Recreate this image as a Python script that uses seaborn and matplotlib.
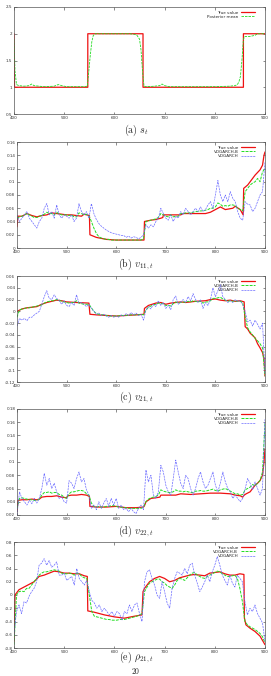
import numpy as np
import matplotlib
matplotlib.use("Agg")
import matplotlib.pyplot as plt
import seaborn as sns
from matplotlib.ticker import FuncFormatter, MultipleLocator

# ---- data ----
# common grid for the filtered series (every 5 steps)
t_grid = list(range(400, 901, 5))

# (a) regime s_t
a_true_t = [400, 401, 547, 547, 657, 657, 857, 857, 900]
a_true_y = [2, 1, 1, 2, 2, 1, 1, 2, 2]
a_post_t = [400, 402, 405, 410, 420, 430, 435, 440, 450, 460,
            480, 488, 495, 505, 520, 540, 546, 549, 552, 555,
            558, 562, 570, 600, 630, 640, 645, 650, 653, 656,
            659, 665, 680, 690, 695, 700, 710, 750, 800, 830,
            840, 845, 848, 851, 854, 857, 860, 870, 880, 885, 900]
a_post_y = [1.9, 1.3, 1.05, 1.03, 1.02, 1.03, 1.06, 1.03, 1.02, 1.01,
            1.02, 1.05, 1.03, 1.01, 1.01, 1.01, 1.02, 1.3, 1.6, 1.85,
            1.97, 2.0, 2.0, 2.0, 2.0, 1.99, 1.97, 1.9, 1.7, 1.3,
            1.02, 1.01, 1.02, 1.03, 1.06, 1.03, 1.01, 1.01, 1.01, 1.02,
            1.03, 1.05, 1.1, 1.2, 1.5, 1.9, 1.95, 1.95, 1.97, 2.0, 2.0]

# (b) v_11,t
b_true_t = [400, 402, 410, 420, 430, 440, 450, 460, 470, 480,
            490, 500, 510, 520, 530, 535, 546, 547, 560, 580,
            600, 620, 640, 656, 657, 670, 680, 690, 694, 695,
            710, 730, 735, 760, 780, 790, 800, 810, 820, 835,
            840, 850, 856, 857, 865, 870, 880, 890, 895, 898, 900]
b_true_y = [0.032, 0.048, 0.048, 0.052, 0.049, 0.047, 0.049, 0.05, 0.053, 0.052,
            0.051, 0.05, 0.05, 0.049, 0.048, 0.051, 0.049, 0.02, 0.016, 0.013,
            0.012, 0.012, 0.012, 0.012, 0.04, 0.042, 0.043, 0.045, 0.046, 0.05,
            0.05, 0.05, 0.052, 0.052, 0.052, 0.054, 0.058, 0.062, 0.058, 0.06,
            0.063, 0.058, 0.05, 0.09, 0.095, 0.1, 0.11, 0.118, 0.125, 0.14, 0.145]
b_vdb = [0.045, 0.047, 0.048, 0.05, 0.052, 0.05, 0.048, 0.046, 0.046, 0.048,
         0.049, 0.051, 0.054, 0.052, 0.052, 0.05, 0.054, 0.051, 0.05, 0.05,
         0.05, 0.049, 0.05, 0.047, 0.047, 0.053, 0.052, 0.05, 0.051, 0.049,
         0.04, 0.03, 0.022, 0.017, 0.015, 0.014, 0.013, 0.013, 0.012, 0.012,
         0.012, 0.012, 0.012, 0.012, 0.012, 0.012, 0.012, 0.012, 0.012, 0.012,
         0.012, 0.014, 0.04, 0.041, 0.042, 0.043, 0.044, 0.046, 0.052, 0.05,
         0.048, 0.047, 0.05, 0.047, 0.048, 0.048, 0.052, 0.052, 0.053, 0.053,
         0.053, 0.054, 0.055, 0.055, 0.056, 0.056, 0.057, 0.058, 0.06, 0.06,
         0.062, 0.068, 0.066, 0.063, 0.064, 0.063, 0.065, 0.065, 0.064, 0.06,
         0.058, 0.056, 0.085, 0.09, 0.095, 0.098, 0.1, 0.105, 0.1, 0.115,
         0.12]
b_vd = [0.05, 0.04, 0.045, 0.05, 0.055, 0.045, 0.04, 0.035, 0.03, 0.04,
        0.045, 0.06, 0.067, 0.05, 0.055, 0.045, 0.065, 0.05, 0.045, 0.05,
        0.048, 0.045, 0.05, 0.04, 0.045, 0.067, 0.055, 0.05, 0.055, 0.045,
        0.067, 0.052, 0.043, 0.037, 0.033, 0.03, 0.027, 0.025, 0.023, 0.022,
        0.021, 0.02, 0.019, 0.019, 0.016, 0.018, 0.015, 0.017, 0.016, 0.014,
        0.016, 0.02, 0.035, 0.03, 0.035, 0.032, 0.04, 0.045, 0.06, 0.052,
        0.045, 0.042, 0.05, 0.04, 0.048, 0.045, 0.055, 0.05, 0.06, 0.055,
        0.05, 0.055, 0.06, 0.055, 0.062, 0.055, 0.058, 0.065, 0.07, 0.06,
        0.08, 0.102, 0.08, 0.07, 0.08, 0.07, 0.085, 0.075, 0.07, 0.055,
        0.045, 0.042, 0.07, 0.066, 0.065, 0.055, 0.06, 0.07, 0.08, 0.085,
        0.13]

# (c) v_21,t
c_true_t = [400, 410, 420, 440, 450, 460, 470, 480, 490, 500,
            520, 545, 547, 560, 580, 600, 620, 640, 656, 657,
            665, 680, 690, 700, 710, 720, 730, 740, 760, 780,
            790, 800, 810, 820, 830, 840, 850, 858, 860, 865,
            870, 880, 885, 890, 895, 898, 900]
c_true_y = [0.0, 0.004, 0.006, 0.008, 0.012, 0.015, 0.017, 0.019, 0.018, 0.016,
            0.015, 0.014, -0.005, -0.006, -0.007, -0.008, -0.007, -0.006, -0.005, 0.005,
            0.01, 0.014, 0.015, 0.012, 0.014, 0.015, 0.016, 0.015, 0.017, 0.018,
            0.02, 0.021, 0.019, 0.018, 0.019, 0.017, 0.018, 0.016, -0.026, -0.03,
            -0.037, -0.045, -0.055, -0.062, -0.07, -0.08, -0.11]
c_vdb = [-0.01, 0.002, 0.004, 0.005, 0.006, 0.006, 0.007, 0.008, 0.009, 0.01,
         0.011, 0.014, 0.016, 0.017, 0.018, 0.018, 0.02, 0.019, 0.017, 0.016,
         0.015, 0.014, 0.015, 0.015, 0.018, 0.014, 0.013, 0.012, 0.012, 0.012,
         0.006, 0.0, -0.004, -0.005, -0.006, -0.006, -0.007, -0.008, -0.008, -0.008,
         -0.008, -0.008, -0.007, -0.007, -0.007, -0.006, -0.006, -0.006, -0.006, -0.006,
         -0.005, -0.006, 0.002, 0.007, 0.009, 0.011, 0.012, 0.014, 0.013, 0.013,
         0.01, 0.01, 0.009, 0.013, 0.016, 0.014, 0.015, 0.016, 0.015, 0.017,
         0.016, 0.018, 0.017, 0.016, 0.017, 0.014, 0.016, 0.016, 0.018, 0.022,
         0.022, 0.023, 0.024, 0.021, 0.019, 0.017, 0.018, 0.017, 0.018, 0.017,
         0.017, 0.015, -0.01, -0.028, -0.035, -0.04, -0.046, -0.05, -0.055, -0.062,
         -0.11]
c_vd = [-0.025, -0.012, -0.015, -0.012, -0.016, -0.01, -0.01, -0.006, -0.003, 0.0,
        0.012, 0.025, 0.035, 0.022, 0.02, 0.028, 0.022, 0.018, 0.012, 0.018,
        0.01, 0.008, 0.015, 0.01, 0.028, 0.014, 0.015, 0.012, 0.008, 0.012,
        0.005, 0.0, -0.005, -0.003, -0.007, -0.005, -0.008, -0.01, -0.007, -0.01,
        -0.008, -0.01, -0.006, -0.008, -0.004, -0.007, -0.002, -0.006, -0.003, -0.007,
        -0.005, -0.015, 0.002, 0.008, 0.004, 0.012, 0.008, 0.018, 0.01, 0.015,
        0.005, 0.01, 0.003, 0.02, 0.026, 0.012, 0.016, 0.02, 0.015, 0.025,
        0.018, 0.03, 0.02, 0.015, 0.02, 0.005, 0.015, 0.01, 0.02, 0.04,
        0.025, 0.035, 0.045, 0.025, 0.02, 0.015, 0.018, 0.015, 0.02, 0.017,
        0.018, 0.012, 0.0, -0.018, -0.015, -0.025, -0.015, -0.022, -0.03, -0.02,
        -0.105]

# (d) v_22,t
d_true_t = [400, 402, 410, 420, 430, 440, 445, 450, 460, 470,
            480, 490, 500, 502, 510, 520, 530, 540, 546, 547,
            560, 580, 600, 620, 640, 655, 657, 660, 670, 680,
            688, 690, 700, 720, 730, 750, 770, 790, 810, 830,
            840, 850, 855, 858, 862, 870, 875, 880, 885, 890,
            895, 898, 900]
d_true_y = [0.025, 0.042, 0.043, 0.043, 0.044, 0.043, 0.044, 0.047, 0.048, 0.048,
            0.049, 0.047, 0.046, 0.049, 0.05, 0.05, 0.051, 0.05, 0.048, 0.033,
            0.032, 0.032, 0.033, 0.031, 0.031, 0.032, 0.034, 0.04, 0.045, 0.046,
            0.047, 0.05, 0.05, 0.05, 0.052, 0.051, 0.052, 0.053, 0.053, 0.052,
            0.05, 0.049, 0.047, 0.05, 0.052, 0.055, 0.06, 0.065, 0.068, 0.072,
            0.08, 0.1, 0.12]
d_vdb = [0.03, 0.045, 0.046, 0.045, 0.044, 0.043, 0.043, 0.042, 0.042, 0.044,
         0.05, 0.054, 0.054, 0.055, 0.053, 0.054, 0.054, 0.051, 0.05, 0.047,
         0.045, 0.052, 0.055, 0.055, 0.056, 0.057, 0.057, 0.056, 0.052, 0.05,
         0.038, 0.033, 0.032, 0.033, 0.032, 0.032, 0.033, 0.033, 0.034, 0.034,
         0.033, 0.032, 0.032, 0.031, 0.031, 0.03, 0.03, 0.03, 0.03, 0.03,
         0.03, 0.032, 0.04, 0.044, 0.046, 0.047, 0.048, 0.05, 0.058, 0.056,
         0.055, 0.054, 0.054, 0.055, 0.058, 0.056, 0.056, 0.055, 0.056, 0.055,
         0.054, 0.054, 0.056, 0.056, 0.057, 0.056, 0.056, 0.057, 0.058, 0.059,
         0.057, 0.056, 0.058, 0.059, 0.06, 0.058, 0.056, 0.054, 0.052, 0.052,
         0.05, 0.051, 0.058, 0.06, 0.062, 0.066, 0.064, 0.068, 0.072, 0.085,
         0.16]
d_vd = [0.02, 0.055, 0.045, 0.04, 0.035, 0.042, 0.037, 0.045, 0.038, 0.045,
        0.06, 0.083, 0.065, 0.075, 0.06, 0.068, 0.055, 0.045, 0.048, 0.04,
        0.038, 0.072, 0.068, 0.06, 0.075, 0.085, 0.07, 0.075, 0.058, 0.05,
        0.03, 0.035, 0.028, 0.04, 0.03, 0.038, 0.045, 0.033, 0.045, 0.035,
        0.045, 0.03, 0.035, 0.028, 0.03, 0.025, 0.03, 0.025, 0.022, 0.03,
        0.035, 0.028, 0.088, 0.07, 0.08, 0.05, 0.045, 0.055, 0.095, 0.085,
        0.065, 0.055, 0.05, 0.075, 0.103, 0.085, 0.068, 0.06, 0.08, 0.075,
        0.06, 0.05, 0.06, 0.075, 0.085, 0.07, 0.06, 0.065, 0.075, 0.085,
        0.065, 0.055, 0.068, 0.085, 0.07, 0.06, 0.055, 0.045, 0.05, 0.045,
        0.04, 0.045, 0.06, 0.075, 0.068, 0.058, 0.07, 0.06, 0.05, 0.06,
        0.165]

# (e) rho_21,t
e_true_t = [400, 402, 410, 420, 430, 440, 450, 460, 470, 480,
            490, 500, 510, 520, 530, 540, 546, 547, 560, 580,
            600, 620, 640, 655, 657, 660, 670, 680, 690, 700,
            710, 720, 730, 740, 750, 760, 770, 780, 790, 800,
            810, 820, 830, 840, 850, 858, 859, 862, 870, 880,
            890, 900]
e_true_y = [-0.7, 0.0, 0.08, 0.12, 0.16, 0.2, 0.28, 0.3, 0.33, 0.36,
            0.35, 0.33, 0.33, 0.32, 0.32, 0.29, 0.28, -0.24, -0.26, -0.3,
            -0.33, -0.35, -0.32, -0.3, 0.05, 0.1, 0.2, 0.25, 0.28, 0.25,
            0.2, 0.22, 0.26, 0.28, 0.3, 0.31, 0.3, 0.29, 0.33, 0.34,
            0.35, 0.32, 0.3, 0.3, 0.32, 0.31, -0.35, -0.45, -0.5, -0.55,
            -0.62, -0.75]
e_vdb = [-0.75, 0.0, 0.05, 0.06, 0.05, 0.1, 0.1, 0.15, 0.2, 0.25,
         0.3, 0.33, 0.35, 0.35, 0.36, 0.37, 0.38, 0.37, 0.36, 0.33,
         0.32, 0.32, 0.33, 0.32, 0.3, 0.33, 0.32, 0.28, 0.26, 0.25,
         0.0, -0.25, -0.32, -0.33, -0.34, -0.35, -0.36, -0.37, -0.37, -0.38,
         -0.38, -0.38, -0.37, -0.37, -0.37, -0.36, -0.35, -0.34, -0.33, -0.32,
         -0.3, -0.28, 0.05, 0.12, 0.18, 0.2, 0.22, 0.24, 0.24, 0.2,
         0.18, 0.14, 0.12, 0.1, 0.15, 0.22, 0.25, 0.24, 0.22, 0.26,
         0.3, 0.33, 0.34, 0.3, 0.28, 0.26, 0.25, 0.28, 0.3, 0.32,
         0.34, 0.36, 0.35, 0.32, 0.3, 0.28, 0.28, 0.29, 0.3, 0.25,
         0.1, -0.1, -0.4, -0.45, -0.48, -0.5, -0.52, -0.55, -0.58, -0.63,
         -0.72]
e_vd = [-0.6, -0.25, -0.15, -0.28, -0.1, -0.12, -0.02, 0.05, 0.1, 0.2,
        0.45, 0.48, 0.55, 0.45, 0.52, 0.42, 0.45, 0.5, 0.3, 0.3,
        0.33, 0.22, 0.25, 0.28, 0.15, 0.4, 0.25, 0.2, 0.15, 0.22,
        0.05, -0.08, -0.12, -0.2, -0.15, -0.25, -0.2, -0.25, -0.3, -0.25,
        -0.32, -0.25, -0.28, -0.38, -0.25, -0.28, -0.15, -0.25, -0.15, -0.12,
        -0.28, -0.4, 0.2, 0.35, 0.38, 0.25, 0.15, 0.0, -0.05, 0.2,
        0.05, -0.12, -0.2, 0.1, 0.25, 0.35, 0.33, 0.3, 0.4, 0.32,
        0.45, 0.48, 0.3, 0.18, 0.05, 0.12, 0.2, 0.3, 0.2, 0.35,
        0.45, 0.58, 0.45, 0.3, 0.22, 0.15, 0.3, 0.18, 0.12, 0.3,
        0.25, 0.2, -0.1, -0.3, -0.2, -0.25, -0.15, -0.28, -0.35, -0.42,
        -0.7]

captions = [r"$\mathrm{(a)}\ s_t$", r"$\mathrm{(b)}\ v_{11,t}$", r"$\mathrm{(c)}\ v_{21,t}$",
            r"$\mathrm{(d)}\ v_{22,t}$", r"$\mathrm{(e)}\ \rho_{21,t}$"]
ylims = [(0.5, 2.5), (0, 0.16), (-0.12, 0.06), (0.02, 0.18), (-0.8, 0.8)]
ysteps = [0.5, 0.02, 0.02, 0.02, 0.2]

# ---- style ----
sns.set_style("ticks")
plt.rcParams["font.family"] = ["DejaVu Sans"]
plt.rcParams["mathtext.fontset"] = "cm"

W, H = 271, 676
fig = plt.figure(figsize=(W / 100, H / 100), dpi=100)
fig.patch.set_facecolor("white")

# axes boxes in pixels: left, right, top, bottom
boxes = [(14, 265, 7, 114), (17, 265, 142, 248), (17, 265, 276, 382),
         (17, 265, 409, 515), (14, 265, 542, 648)]
cap_y = [130, 264, 397, 531, 657]

RED = "#ee1111"
GREEN = "#22dd22"
BLUE = "#6a6aff"
dash = (0, (3, 1.2))

series = [
    [(a_true_t, a_true_y, RED, "-", 0.9, "True value"),
     (a_post_t, a_post_y, GREEN, dash, 0.6, "Posterior mean")],
    [(b_true_t, b_true_y, RED, "-", 0.9, "True value"),
     (t_grid, b_vdb, GREEN, dash, 0.7, "VDGARCH-B"),
     (t_grid, b_vd, BLUE, dash, 0.5, "VDGARCH")],
    [(c_true_t, c_true_y, RED, "-", 0.9, "True value"),
     (t_grid, c_vdb, GREEN, dash, 0.7, "VDGARCH-B"),
     (t_grid, c_vd, BLUE, dash, 0.5, "VDGARCH")],
    [(d_true_t, d_true_y, RED, "-", 0.9, "True value"),
     (t_grid, d_vdb, GREEN, dash, 0.7, "VDGARCH-B"),
     (t_grid, d_vd, BLUE, dash, 0.5, "VDGARCH")],
    [(e_true_t, e_true_y, RED, "-", 0.9, "True value"),
     (t_grid, e_vdb, GREEN, dash, 0.7, "VDGARCH-B"),
     (t_grid, e_vd, BLUE, dash, 0.5, "VDGARCH")],
]

fmt = FuncFormatter(lambda v, p: f"{round(v, 3) + 0:g}")

for i, (l, r, top, bot) in enumerate(boxes):
    ax = fig.add_axes([l / W, 1 - bot / H, (r - l) / W, (bot - top) / H])
    for tx, ty, col, ls, lw, lab in series[i]:
        sns.lineplot(x=tx, y=ty, ax=ax, color=col, linestyle=ls, linewidth=lw,
                     estimator=None, sort=False, label=lab)
    ax.set_xlim(400, 900)
    ax.set_ylim(*ylims[i])
    ax.xaxis.set_major_locator(MultipleLocator(100))
    ax.yaxis.set_major_locator(MultipleLocator(ysteps[i]))
    ax.yaxis.set_major_formatter(fmt)
    ax.tick_params(direction="in", length=1.8, width=0.4, labelsize=3,
                   pad=1.2, top=True, right=True, colors="#333333")
    for s in ax.spines.values():
        s.set_linewidth(0.5)
        s.set_color("#555555")
    ax.set_xlabel("")
    ax.set_ylabel("")
    ax.legend(loc="upper right", bbox_to_anchor=(0.97, 0.985), frameon=False,
              fontsize=3, markerfirst=False, handlelength=3.5,
              labelspacing=0.05, borderpad=0, handletextpad=0.6)
    fig.text(136 / W, 1 - cap_y[i] / H, captions[i], ha="center", va="center",
             fontsize=7.2)

# page number at the bottom edge
fig.text(136 / W, 1 - 671 / H, r"$\mathrm{20}$", ha="center", va="center", fontsize=5.5)

fig.savefig("out.png", dpi=100, facecolor="white")
